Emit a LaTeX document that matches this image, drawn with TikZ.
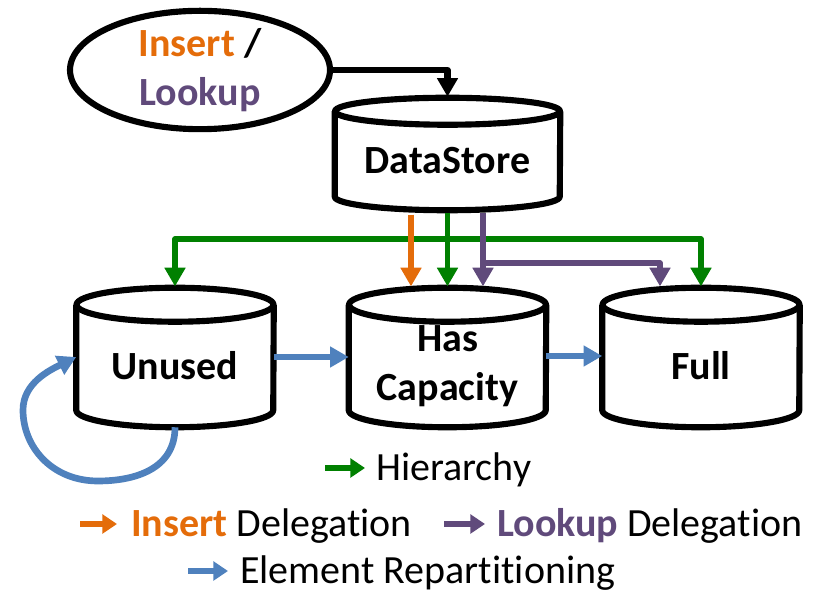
\documentclass[tikz,border=0pt]{standalone}
\usepackage{fontspec}
\setmainfont{Carlito}[Ligatures=NoCommon]
\usetikzlibrary{arrows.meta,calc,shapes.geometric}
\definecolor{cOrange}{HTML}{E46C0A}
\definecolor{cPurple}{HTML}{604A7B}
\definecolor{cGreen}{HTML}{008000}
\definecolor{cBlue}{HTML}{4F81BD}
\newcommand\drawcyl[3]{%
  \draw[outline] ($(#1.north west)+(0pt,#3)$) -- (#1.south west)
     arc[start angle=180,end angle=360,x radius=#2,y radius=#3]
     -- ($(#1.north east)+(0pt,#3)$);
  \draw[outline] ($(#1.north)+(0pt,#3)$) ellipse[x radius=#2,y radius=#3];
}
\begin{document}
\begin{tikzpicture}[x=0.75pt,y=0.75pt,
  outline/.style={line width=4.6pt,line join=round},
  nodefont/.style={font=\fontsize{30}{37}\selectfont\bfseries},
  lowbody/.style={rectangle,inner sep=0pt,minimum width=147.75pt,minimum height=66pt,align=center,nodefont},
  topbody/.style={rectangle,inner sep=0pt,minimum width=168.75pt,minimum height=53.6pt,align=center,nodefont},
  leg/.style={inner sep=0pt,anchor=base west,font=\fontsize{30}{37}\selectfont},
  conn/.style={line width=4.3pt,line join=round,-{Triangle[width=15pt,length=14pt]}},
  garr/.style={conn,draw=cGreen},
  oarr/.style={conn,draw=cOrange},
  parr/.style={conn,draw=cPurple},
  barr/.style={conn,draw=black,line width=4.6pt},
  rarr/.style={line width=5pt,draw=cBlue,-{Triangle[width=15pt,length=14pt]}},
  legarr/.style={line width=5pt,-{Triangle[width=14pt,length=11pt]}}
]
\useasboundingbox (0,0) rectangle (827,595);

% request ellipse
\node[ellipse,draw,outline,minimum width=195pt,minimum height=84pt,inner sep=0pt,align=center,nodefont]
  (req) at (200,525) {\textcolor{cOrange}{Insert} /\\\textcolor{cPurple}{Lookup}};

% cylinders
\node[topbody] (ds) at (447.5,434.25) {DataStore};
\node[lowbody] (un) at (175,229) {Unused};
\node[lowbody] (hc) at (447.5,229) {Has\\Capacity};
\node[lowbody] (fu) at (701,229) {Full};
\drawcyl{ds}{84.375pt}{10.125pt}
\drawcyl{un}{73.875pt}{12.75pt}
\drawcyl{hc}{73.875pt}{12.75pt}
\drawcyl{fu}{73.875pt}{12.75pt}

\coordinate (ds-top) at ($(ds.north)+(0pt,21pt)$);
\coordinate (un-top) at ($(un.north)+(0pt,26.5pt)$);
\coordinate (hc-top) at ($(hc.north)+(0pt,26.5pt)$);
\coordinate (fu-top) at ($(fu.north)+(0pt,26.5pt)$);

% request arrow
\draw[barr] (req.east) -| (ds-top);

% delegation / hierarchy
\coordinate (g0) at ($(ds.south)+(0,-16.5)$);
\coordinate (gbar) at ($(ds.south)+(0,-42.5)$);
\coordinate (o0) at ($(ds.south)+(-36.5,-18)$);
\coordinate (p0) at ($(ds.south)+(35.5,-16.5)$);
\coordinate (pbar) at ($(ds.south)+(35.5,-66.5)$);
\draw[garr] (g0) -- (gbar) -| (un-top);
\draw[garr] (gbar) -| (fu-top);
\draw[garr] (g0) -- (g0 |- hc-top);
\draw[oarr] (o0) -- (o0 |- hc-top);
\draw[parr] (p0) -- (p0 |- hc-top);
\draw[parr] (p0) -- (pbar) -| ($(fu-top)+(-41,0)$);

% repartitioning
\draw[rarr] ($(un.east)+(0,9)$) -- ($(hc.west)+(0,9)$);
\draw[rarr] ($(hc.east)+(0,10)$) -- ($(fu.west)+(0,10)$);
\draw[rarr] ($(un.south)+(0pt,-12.75pt)$)
   .. controls (175,126) and (135,114) .. (98,114)
   .. controls (52,114) and (23,148) .. (23,185)
   .. controls (23,212) and (50,225) .. ($(un.west)+(0,9)$);

% legend
\node[leg] (lhier) at (376,114) {Hierarchy};
\node[leg] (lins) at (131,58) {\textcolor{cOrange}{\bfseries Insert} Delegation};
\node[leg] (llku) at (497,58) {\textcolor{cPurple}{\bfseries Lookup} Delegation};
\node[leg] (lrep) at (240,11) {Element Repartitioning};
\draw[legarr,cGreen] ($(lhier.base west)+(-51,13)$) -- ($(lhier.base west)+(-11,13)$);
\draw[legarr,cOrange] ($(lins.base west)+(-51,13)$) -- ($(lins.base west)+(-14,13)$);
\draw[legarr,cPurple] ($(llku.base west)+(-53,13)$) -- ($(llku.base west)+(-12,13)$);
\draw[legarr,cBlue] ($(lrep.base west)+(-52,13)$) -- ($(lrep.base west)+(-12,13)$);
\end{tikzpicture}
\end{document}
